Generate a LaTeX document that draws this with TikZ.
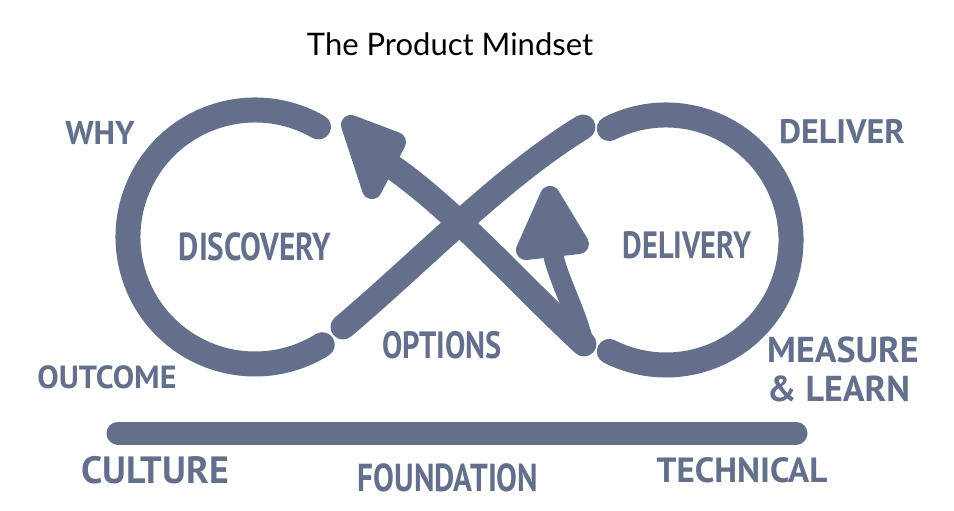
\documentclass[tikz,border=0pt]{standalone}
\usepackage{fontspec}
\setmainfont{Lato}
\newfontfamily\handfont{PT Sans}
\newfontfamily\handnarrow[FakeStretch=0.8]{PT Sans}
\definecolor{slate}{RGB}{99,111,139}
\tikzset{
  lbl/.style={text=slate, font=\handfont\bfseries\fontsize{#1}{#1}\selectfont, inner sep=0pt, anchor=center},
  nlbl/.style={text=slate, font=\handnarrow\bfseries\fontsize{#1}{#1}\selectfont, inner sep=0pt, anchor=center},
  ring/.style={draw=slate, line width=25, line cap=round},
  xstroke/.style={draw=slate, line width=25, line cap=round},
  head/.style={fill=slate, draw=slate, line width=20, line join=round},
  bar/.style={draw=slate, line width=23, line cap=round}
}
\begin{document}
\begin{tikzpicture}[x=1pt,y=-1pt]
\useasboundingbox (0,0) rectangle (954,511);
% title
\node[font=\fontsize{31}{31}\selectfont, text=black, inner sep=0pt] (title) at (450,44) {The Product Mindset};
% left and right loops
\coordinate (lc) at (255,237);
\coordinate (rc) at (666,240);
\draw[ring] ([shift={(-60:127)}]lc) arc[start angle=-60, end angle=-302, radius=127];
\draw[ring] ([shift={(-117:125)}]rc) arc[start angle=-117, end angle=117, radius=125];
% crossing strokes
\coordinate (bl) at (343,327);
\coordinate (tr) at (583,127);
\coordinate (br) at (584,344);
\coordinate (h1) at (385,162);
\coordinate (h2) at (552,250);
\draw[xstroke] (bl) .. controls (420,262) and (500,178) .. (tr);
\draw[xstroke] (br) .. controls (520,285) and (450,205) .. (h1);
\draw[draw=slate, line width=20, line cap=round] (br) .. controls (576,310) and (558,280) .. (h2);
\filldraw[head] (351,125) -- (396,142) -- (372,189) -- cycle;
\filldraw[head] (550,196) -- (579,244) -- (526,250) -- cycle;
% foundation bar
\coordinate (barl) at (118,433);
\coordinate (barr) at (796,433);
\draw[bar] (barl) -- (barr);
% labels
\node[lbl=33] (why) at (100,133) {WHY};
\node[lbl=32] (outcome) at (107,377) {OUTCOME};
\node[nlbl=39] (discovery) at (255,247) {DISCOVERY};
\node[nlbl=38] (options) at (442,345) {OPTIONS};
\node[nlbl=38] (delivery) at (687,245) {DELIVERY};
\node[lbl=34] (deliver) at (842,132) {DELIVER};
\node[lbl=36, align=left, anchor=west] (measure) at (767,369) {MEASURE\\[3pt]\&\ LEARN};
\node[lbl=38] (culture) at (155,470) {CULTURE};
\node[nlbl=39] (foundation) at (448,478) {FOUNDATION};
\node[lbl=35] (technical) at (742,470) {TECHNICAL};
\end{tikzpicture}
\end{document}
